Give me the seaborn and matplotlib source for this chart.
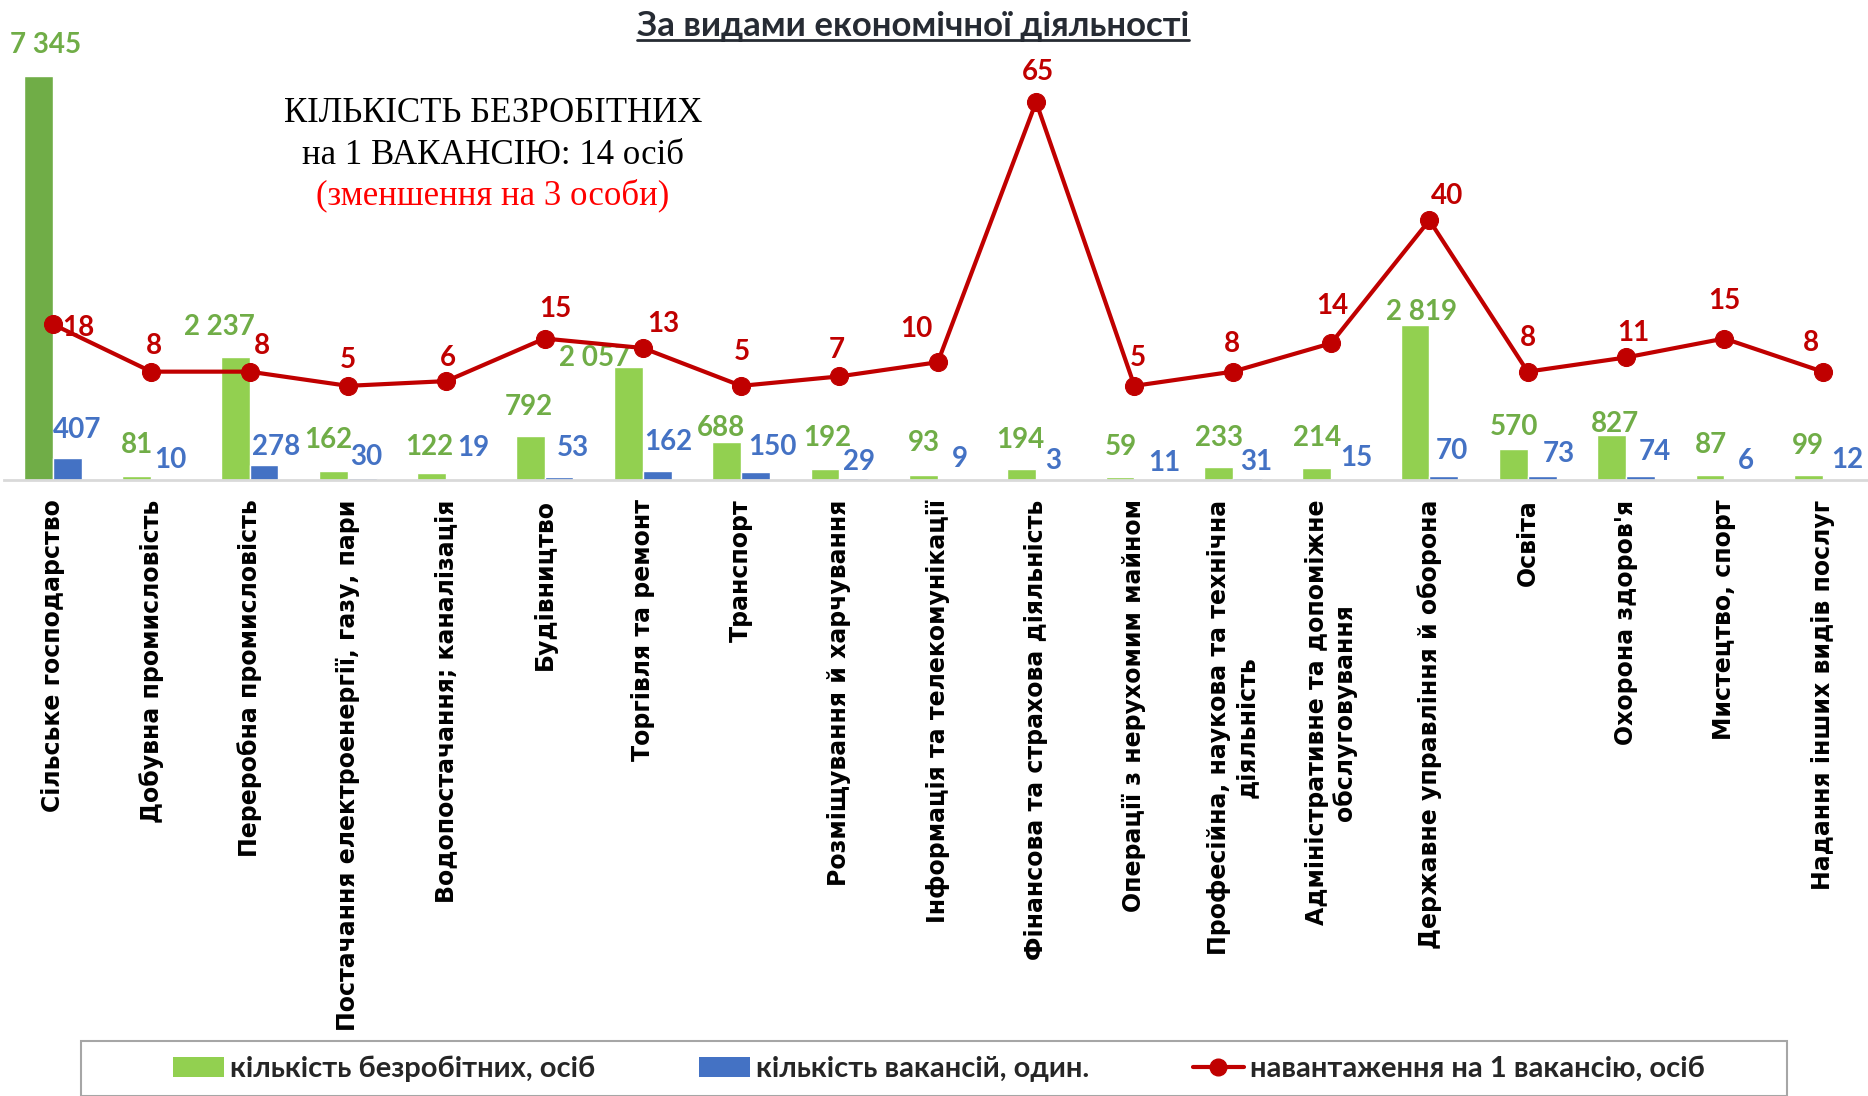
import numpy as np
import pandas as pd
import matplotlib.pyplot as plt
import seaborn as sns
from matplotlib.patches import Patch, Rectangle
from matplotlib.lines import Line2D

# Data
categories = [
    "Сільське господарство",
    "Добувна промисловість",
    "Переробна промисловість",
    "Постачання електроенергії, газу, пари",
    "Водопостачання; каналізація",
    "Будівництво",
    "Торгівля та ремонт",
    "Транспорт",
    "Розміщування й харчування",
    "Інформація та телекомунікації",
    "Фінансова та страхова діяльність",
    "Операції з нерухомим майном",
    "Професійна, наукова та технічна\nдіяльність",
    "Адміністративне та допоміжне\nобслуговування",
    "Державне управління й оборона",
    "Освіта",
    "Охорона здоров'я",
    "Мистецтво, спорт",
    "Надання інших видів послуг",
]
unemployed = [7345, 81, 2237, 162, 122, 792, 2057, 688, 192, 93, 194, 59, 233, 214, 2819, 570, 827, 87, 99]
vacancies = [407, 10, 278, 30, 19, 53, 162, 150, 29, 9, 3, 11, 31, 15, 70, 73, 74, 6, 12]
load = [18, 8, 8, 5, 6, 15, 13, 5, 7, 10, 65, 5, 8, 14, 40, 8, 11, 15, 8]

series_names = ["кількість безробітних, осіб", "кількість вакансій, один.", "навантаження на 1 вакансію, осіб"]

# label nudges (pixels, dx right / dy up) as placed by hand in the original
green_off = [(7, 31), (0, 31), (-16, 30), (-5, 31), (-3, 26), (-1, 29), (-34, 9), (-6, 14), (2, 31), (0, 32),
             (-1, 29), (1, 30), (1, 29), (0, 30), (7, 13), (1, 22), (3, 11), (1, 30), (0, 29)]
blue_off = [(10, 28), (5, 19), (12, 18), (4, 21), (13, 31), (14, 29), (11, 29), (17, 25), (5, 16), (8, 21),
            (3, 19), (15, 16), (9, 16), (11, 21), (8, 25), (17, 22), (14, 24), (7, 19), (10, 19)]
red_off = [(25, -4), (3, 26), (12, 26), (0, 26), (2, 23), (11, 30), (20, 24), (1, 34), (-3, 26), (-21, 33),
           (2, 30), (3, 28), (-1, 28), (1, 37), (18, 24), (0, 34), (7, 24), (0, 38), (-12, 29)]

GREEN = "#92D050"
DARK_GREEN = "#70AD47"
BLUE = "#4472C4"
RED = "#C00000"
NARROW = ["Liberation Sans Narrow", "Lato", "DejaVu Sans"]
SERIF = ["Liberation Serif", "DejaVu Serif"]

sns.set_style("white")
plt.rcParams["font.family"] = ["DejaVu Sans"]

df = pd.DataFrame({
    "cat": categories * 2,
    "val": unemployed + vacancies,
    "series": [series_names[0]] * len(categories) + [series_names[1]] * len(categories),
})

fig = plt.figure(figsize=(18.68, 10.96), dpi=100)
ax = fig.add_axes([3.8 / 1868, 1 - 480 / 1096, 1.0, 440 / 1096])

sns.barplot(data=df, x="cat", y="val", hue="series", palette=[GREEN, BLUE],
            width=0.586, saturation=1, gap=0, legend=False, ax=ax)
ax.containers[0][0].set_facecolor(DARK_GREEN)
ax.set_ylim(0, 8000)
ax.set_xlim(-0.5, len(categories) - 0.5)

def fmt(v):
    return f"{v:,}".replace(",", " ")

for p, v, off in zip(ax.containers[0], unemployed, green_off):
    ax.annotate(fmt(v), (p.get_x() + p.get_width() / 2, p.get_height()),
                xytext=off, textcoords="offset pixels", ha="center", va="center",
                fontsize=20, fontweight="bold", color=DARK_GREEN, family=NARROW)
for p, v, off in zip(ax.containers[1], vacancies, blue_off):
    ax.annotate(fmt(v), (p.get_x() + p.get_width() / 2, p.get_height()),
                xytext=off, textcoords="offset pixels", ha="center", va="center",
                fontsize=20, fontweight="bold", color=BLUE, family=NARROW)

ax.set_xticks(range(len(categories)))
ax.set_xticklabels(categories, rotation=90, ha="center", va="top",
                   fontsize=17, fontweight="bold", color="black")
ax.tick_params(axis="x", length=0, pad=14)
ax.set_yticks([])
ax.set_xlabel("")
ax.set_ylabel("")
for s in ["left", "right", "top"]:
    ax.spines[s].set_visible(False)
ax.spines["bottom"].set_color("#D9D9D9")
ax.spines["bottom"].set_linewidth(2)

ax2 = ax.twinx()
sns.lineplot(x=np.arange(len(load)), y=load, ax=ax2, color=RED, lw=3,
             marker="o", markersize=13, markeredgecolor=RED)
ax2.set_ylim(-14.9, 78.1)
ax2.set_xlim(-0.5, len(categories) - 0.5)
ax2.set_yticks([])
ax2.set_ylabel("")
for s in ax2.spines.values():
    s.set_visible(False)

for i, (v, off) in enumerate(zip(load, red_off)):
    ax2.annotate(str(v), (i, v), xytext=off, textcoords="offset pixels",
                 ha="center", va="center", fontsize=20, fontweight="bold",
                 color=RED, family=NARROW)

# title with underline
title = fig.text(913 / 1868, 1 - 26 / 1096, "За видами економічної діяльності",
                 ha="center", va="center", fontsize=25, fontweight="bold",
                 color="#262B33", family=NARROW)

# annotation block
fig.text(493 / 1868, 1 - 114 / 1096, "КІЛЬКІСТЬ БЕЗРОБІТНИХ", ha="center", va="center",
         fontsize=25, color="black", family=SERIF)
fig.text(493 / 1868, 1 - 156 / 1096, "на 1 ВАКАНСІЮ: 14 осіб", ha="center", va="center",
         fontsize=25, color="black", family=SERIF)
fig.text(493 / 1868, 1 - 195 / 1096, "(зменшення на 3 особи)", ha="center", va="center",
         fontsize=25, color="#FF0000", family=SERIF)

# legend
handles = [
    Patch(facecolor=GREEN, edgecolor="none"),
    Patch(facecolor=BLUE, edgecolor="none"),
    Line2D([0], [0], color=RED, lw=3, marker="o", markersize=12),
]
fig.legend(handles, series_names, loc="center", bbox_to_anchor=(939 / 1868, 1 - 1069 / 1096),
           ncol=3, frameon=False, handlelength=1.75, handleheight=0.65, handletextpad=0.2,
           columnspacing=3.55, prop={"family": NARROW, "weight": "bold", "size": 21})
fig.add_artist(Rectangle((81 / 1868, 0), (1787 - 81) / 1868, 1 - 1041 / 1096,
                         transform=fig.transFigure, fill=False, edgecolor="#A6A6A6", lw=1.5))

fig.canvas.draw()
bb = title.get_window_extent().transformed(fig.transFigure.inverted())
fig.add_artist(Line2D([bb.x0, bb.x1], [1 - 40 / 1096] * 2, transform=fig.transFigure,
                      color="#262B33", lw=2))

fig.savefig("out.png", dpi=100)
